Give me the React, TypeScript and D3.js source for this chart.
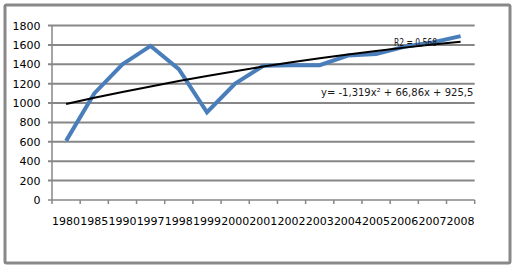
import React from "react";
import * as d3 from "d3";

const categories = ["1980","1985","1990","1997","1998","1999","2000","2001","2002","2003","2004","2005","2006","2007","2008"];
const values = [610, 1100, 1400, 1590, 1350, 905, 1200, 1385, 1390, 1390, 1490, 1505, 1580, 1625, 1690];
const yTicks = [0, 200, 400, 600, 800, 1000, 1200, 1400, 1600, 1800];
// Polynomial trendline coefficients as printed on the chart: y = a x^2 + b x + c
const trendA = -1.319;
const trendB = 66.86;
const trendC = 925.5;
const equationLabel = "y= -1,319x² + 66,86x + 925,5";
const r2Label = "R2 = 0,568";

const W = 518, H = 269;
const M = { left: 52, right: 474.7, top: 25.5, bottom: 200 };
const FONT = "DejaVu Sans, Verdana, sans-serif";

export default function App() {
  const x = d3.scaleBand<string>().domain(categories).range([M.left, M.right]);
  const xc = (c: string) => (x(c) as number) + x.bandwidth() / 2;
  const y = d3.scaleLinear().domain([0, 1800]).range([M.bottom, M.top]);

  const line = d3.line<number>()
    .x((_, i) => xc(categories[i]))
    .y((d) => y(d));

  const trendVals = categories.map((_, i) => {
    const n = i + 1;
    return trendA * n * n + trendB * n + trendC;
  });

  const bounds = categories.map((c) => x(c) as number).concat([M.right]);

  return (
    <svg width={W} height={H} style={{ position: "absolute", left: 0, top: 0, background: "#fff" }}>
      <rect x={5} y={5} width={505} height={258} fill="#fff" stroke="#888" strokeWidth={3} rx={1.5} />
      {yTicks.map((t) => (
        <g key={t}>
          <line x1={M.left - 4} x2={M.right} y1={y(t)} y2={y(t)} stroke="#878787" strokeWidth={t === 0 ? 1.5 : 2} />
          <text x={40.5} y={y(t) + 4} textAnchor="end" fontFamily={FONT} fontSize={11} fill="#000">{t}</text>
        </g>
      ))}
      <line x1={M.left} x2={M.left} y1={M.top} y2={M.bottom} stroke="#878787" strokeWidth={1.5} />
      {bounds.map((b, i) => (
        <line key={i} x1={b} x2={b} y1={M.bottom} y2={M.bottom + 4} stroke="#878787" strokeWidth={1.5} />
      ))}
      {categories.map((c) => (
        <text key={c} x={xc(c)} y={225} textAnchor="middle" fontFamily={FONT} fontSize={11} fill="#000">{c}</text>
      ))}
      <path d={line(values) || ""} fill="none" stroke="#4A7EBB" strokeWidth={4} strokeLinejoin="miter" />
      <path d={line(trendVals) || ""} fill="none" stroke="#000" strokeWidth={2} />
      <text x={394} y={46} fontFamily={FONT} fontSize={10} fill="#1a1a1a" textLength={43} lengthAdjust="spacingAndGlyphs">{r2Label}</text>
      <text x={321} y={96} fontFamily={FONT} fontSize={10} fill="#1a1a1a">{equationLabel}</text>
    </svg>
  );
}
